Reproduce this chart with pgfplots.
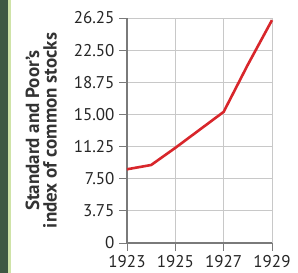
\documentclass[border=0pt]{standalone}
\usepackage{pgfplots}
\pgfplotsset{compat=1.18}
\usepackage{fontspec}
\setmainfont{PT Sans}
\definecolor{stripdark}{HTML}{3E5843}
\definecolor{striplight}{HTML}{CFE3A8}
\definecolor{linered}{HTML}{D8262B}
\definecolor{gridgray}{HTML}{C8C8C8}
\definecolor{axisgray}{HTML}{7A7A7A}
\begin{document}
\begin{tikzpicture}[x=1pt,y=1pt]
\useasboundingbox (0,0) rectangle (298,273);
\fill[white] (0,0) rectangle (298,273);
\fill[stripdark] (0,0) rectangle (8,273);
\fill[striplight] (8,0) rectangle (11,273);
\begin{axis}[
  at={(127pt,30pt)}, anchor=south west,
  scale only axis, width=145pt, height=225pt,
  xmin=1923, xmax=1929, ymin=0, ymax=26.25,
  axis x line*=bottom, axis y line*=left,
  axis line style={axisgray, line width=1.2pt, -},
  xtick={1923,1925,1927,1929},
  xticklabels={1923,1925,1927,1929},
  ytick={0,3.75,7.5,11.25,15,18.75,22.5,26.25},
  yticklabels={0,3.75,7.50,11.25,15.00,18.75,22.50,26.25},
  tick align=outside, major tick length=8pt,
  tick style={axisgray, line width=0.8pt},
  grid=major, grid style={gridgray, line width=0.8pt},
  /pgf/number format/assume math mode=true,
  ticklabel style={font=\fontsize{17}{17}\selectfont, text=black!85},
  yticklabel style={xshift=-1pt},
  xticklabel style={yshift=-1pt},
  ylabel={Standard and Poor's\\index of common stocks},
  ylabel style={at={(ticklabel cs:0.5)}, yshift=-4pt, align=center, font=\fontsize{19}{17.5}\selectfont\bfseries, text=black!80},
  ylabel shift=14pt,
  clip=false,
]
\addplot[linered, line width=2.6pt, line join=round] coordinates {
(1923,8.6) (1924,9.1) (1925,11.1) (1926,13.2) (1927,15.3) (1928,20.8) (1929,26.0)
};
\end{axis}
\end{tikzpicture}
\end{document}
